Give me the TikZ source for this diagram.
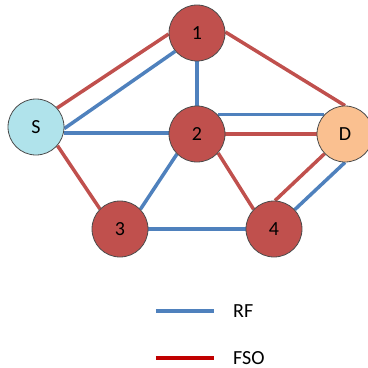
\documentclass[tikz,border=0pt]{standalone}
\usepackage{fontspec}
\setmainfont{Carlito}
\usetikzlibrary{backgrounds}
\definecolor{rfblue}{HTML}{4F81BD}
\definecolor{fsored}{HTML}{C0504D}
\definecolor{keyred}{HTML}{C00000}
\definecolor{relayred}{HTML}{C0504D}
\definecolor{dorange}{HTML}{FAC090}
\definecolor{swater}{HTML}{B0E3EB}
\begin{document}
\begin{tikzpicture}[x=1pt, y=-1pt, font=\fontsize{20}{24}\selectfont,
	relay/.style={circle, draw=black!70, line width=0.8pt, fill=relayred, minimum size=56pt, inner sep=0pt},
	rf/.style={rfblue, line width=3.5pt},
	fso/.style={fsored, line width=3.5pt}]
	\useasboundingbox (0,0) rectangle (368,368);
	%nodes
	\node[relay] (n1) at (197,33) {1};
	\node[relay] (n2) at (197,134) {2};
	\node[relay] (n3) at (120,229) {3};
	\node[relay] (n4) at (274,229) {4};
	\node[relay, fill=swater] (S) at (36,127) {S};
	\node[relay, fill=dorange] (D) at (345,134) {D};
	%links
	\begin{scope}[on background layer]
	\foreach \a/\b in {S.-3/n1.220, S.-12/n2.west |- S.-12, n1.south/n2.north,
		n2.43/D.137, n2.225/n3.44, n3.east/n4.west, n4.43/D.270}
	\draw[rf] (\a) -- (\b);
	\foreach \a/\b in {S.42/n1.182, S.-41/n3.135, n1.2/D.north,
		n2.east/D.west, n2.-42/n4.136, n4.88/D.224}
	\draw[fso] (\a) -- (\b);
	\end{scope}
	%legend
	\draw[rf] (156,311) -- (214,311);
	\node[anchor=west, inner sep=0pt] (rf label) at (233,311) {RF};
	\draw[keyred, line width=3.5pt] (156,358) -- (214,358);
	\node[anchor=west, inner sep=0pt] (fso label) at (233,358) {FSO};
\end{tikzpicture}
\end{document}
